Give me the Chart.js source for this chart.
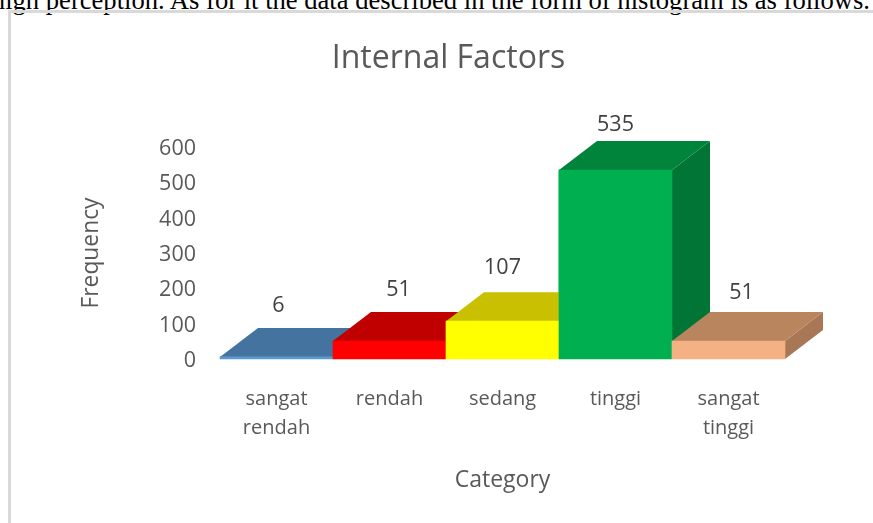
<!DOCTYPE html>
<html><head><meta charset="utf-8">
<style>
html,body{margin:0;padding:0;background:#fff;overflow:hidden}
#wrap{position:relative;width:873px;height:523px;overflow:hidden}
#caption{position:absolute;right:3px;top:-15px;white-space:nowrap;font:26.6px "Liberation Serif",serif;color:#000}
#frame{position:absolute;left:8px;top:10px;width:900px;height:600px;border-left:3px solid #d9d9d9;border-top:3px solid #d9d9d9}
canvas{position:absolute;left:0;top:0}
</style>
<script src="https://cdn.jsdelivr.net/npm/chart.js@4"></script>
</head><body>
<div id="wrap">
<div id="caption">high perception. As for it the data described in the form of histogram is as follows.</div>
<div id="frame"></div>
<canvas id="c" width="873" height="523"></canvas>
</div>
<script>
const categories=[["sangat","rendah"],"rendah","sedang","tinggi",["sangat","tinggi"]];
const frequency=[6,51,107,535,51];
const yTicks=[0,100,200,300,400,500,600];
const frontColors=["#5b9bd5","#ff0000","#ffff00","#00b050","#f4b183"];
const topColors=["#44739f","#c00000","#c8c000","#00843c","#b9855f"];
const sideColors=["#3a6488","#a00000","#a8a000","#007535","#a87755"];
const labelNudgeX=[2,9,0,0,13];
const labelNudgeY=[51,51.5,53.5,45,48.5];
const chartTitle="Internal Factors";
const depthX=38,depthY=29;
const FONT='"Open Sans"';
const ink="#595959";

const bars3d={id:"bars3d",afterDatasetsDraw(chart){
  const ctx=chart.ctx,meta=chart.getDatasetMeta(0);
  meta.data.forEach((bar,i)=>{
    const hw=bar.width/2,l=bar.x-hw,r=bar.x+hw,t=bar.y,b=bar.base;
    ctx.save();
    ctx.fillStyle=sideColors[i];
    ctx.beginPath();ctx.moveTo(r,t);ctx.lineTo(r+depthX,t-depthY);ctx.lineTo(r+depthX,b-depthY);ctx.lineTo(r,b);ctx.closePath();ctx.fill();
    ctx.fillStyle=topColors[i];
    ctx.beginPath();ctx.moveTo(l,t);ctx.lineTo(l+depthX,t-depthY);ctx.lineTo(r+depthX,t-depthY);ctx.lineTo(r,t);ctx.closePath();ctx.fill();
    ctx.restore();
    bar.draw(ctx);
  });
  ctx.save();
  ctx.fillStyle="#404040";ctx.textAlign="center";ctx.textBaseline="middle";
  ctx.font='21.5px '+FONT;
  meta.data.forEach((bar,i)=>{
    ctx.fillText(String(frequency[i]),bar.x+labelNudgeX[i],bar.y-labelNudgeY[i]);
  });
  ctx.fillStyle=ink;
  ctx.font='32px '+FONT;
  ctx.fillText(chartTitle,448.5,59);
  ctx.restore();
}};

new Chart(document.getElementById("c"),{
  type:"bar",
  data:{labels:categories,datasets:[{data:frequency,backgroundColor:frontColors,barPercentage:1,categoryPercentage:1,borderWidth:0}]},
  plugins:[bars3d],
  options:{
    responsive:false,animation:false,
    layout:{padding:{left:78,right:88,top:147,bottom:29}},
    plugins:{legend:{display:false},tooltip:{enabled:false},title:{display:false}},
    scales:{
      x:{
        afterFit(s){s.height=135;},
        grid:{display:false},border:{display:false},
        ticks:{color:ink,font:{family:FONT,size:20,lineHeight:1.45},padding:18,maxRotation:0,autoSkip:false},
        title:{display:true,text:"Category",color:ink,font:{family:FONT,size:23},padding:{top:24,bottom:0}}
      },
      y:{
        min:0,max:600,
        afterBuildTicks(s){s.ticks=yTicks.map(v=>({value:v}));},
        afterFit(s){s.width=142;},
        grid:{display:false},border:{display:false},
        ticks:{color:ink,font:{family:FONT,size:21.5},padding:16,labelOffset:2},
        title:{display:true,text:"Frequency",color:ink,font:{family:FONT,size:22.8},padding:{top:0,bottom:0}}
      }
    }
  }
});
</script>
</body></html>
